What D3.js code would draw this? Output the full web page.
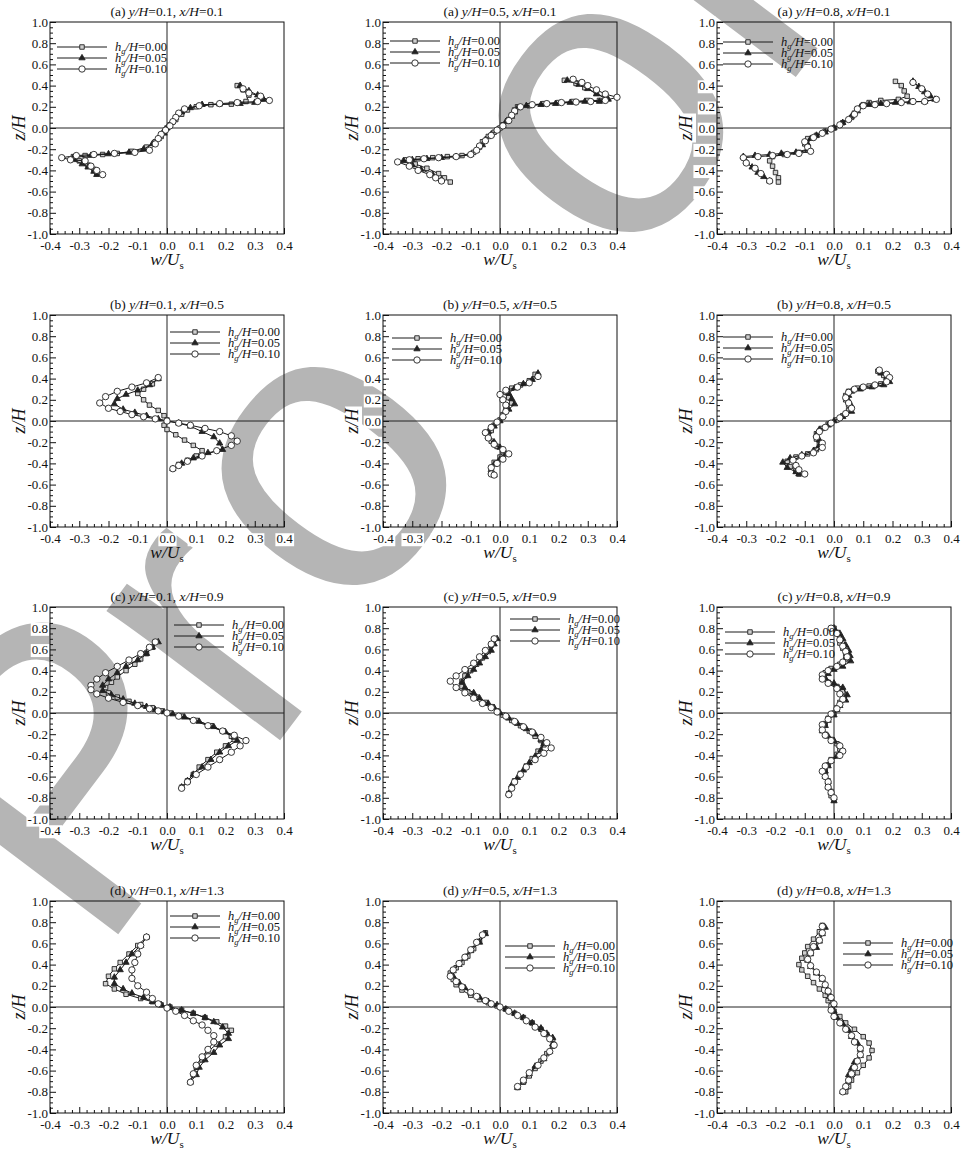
<!DOCTYPE html>
<html>
<head>
<meta charset="utf-8">
<script src="https://cdn.jsdelivr.net/npm/d3@7"></script>
<style>
    body { margin: 0; background: #fff; }
    svg text { font-family: "Liberation Serif", "Times New Roman", serif; }
</style>
</head>
<body>
<div id="chart"></div>
<script>
// ---------- data ----------
const rowLetters = ["a", "b", "c", "d"];
const yhValues = ["0.1", "0.5", "0.8"];
const xhValues = ["0.1", "0.5", "0.9", "1.3"];
const hgLabels = ["0.00", "0.05", "0.10"];
const xTicks = [-0.4, -0.3, -0.2, -0.1, 0.0, 0.1, 0.2, 0.3, 0.4];
const yTicks = [-1.0, -0.8, -0.6, -0.4, -0.2, 0.0, 0.2, 0.4, 0.6, 0.8, 1.0];

// each profile: [h_g/H=0.00, 0.05, 0.10], points are [w/Us, z/H]
const profA1 = [
    [[0.24,0.40],[0.26,0.36],[0.28,0.31],[0.27,0.25],[0.22,0.225],[0.15,0.22],[0.10,0.20],[0.07,0.17],[0.05,0.13],[0.03,0.08],[0.01,0.03],[0.00,0.00],[-0.01,-0.04],[-0.02,-0.08],[-0.04,-0.13],[-0.07,-0.18],[-0.12,-0.22],[-0.17,-0.24],[-0.22,-0.25],[-0.28,-0.26],[-0.32,-0.27],[-0.30,-0.31],[-0.27,-0.35],[-0.25,-0.39],[-0.24,-0.43]],
    [[0.25,0.40],[0.28,0.35],[0.31,0.31],[0.33,0.27],[0.30,0.24],[0.25,0.23],[0.18,0.225],[0.12,0.22],[0.08,0.19],[0.05,0.15],[0.03,0.10],[0.015,0.05],[0.00,0.00],[-0.01,-0.05],[-0.03,-0.10],[-0.05,-0.15],[-0.08,-0.20],[-0.13,-0.23],[-0.20,-0.245],[-0.26,-0.26],[-0.32,-0.28],[-0.32,-0.30],[-0.29,-0.34],[-0.27,-0.37],[-0.25,-0.41],[-0.24,-0.44]],
    [[0.26,0.37],[0.28,0.33],[0.32,0.30],[0.35,0.26],[0.31,0.25],[0.24,0.24],[0.18,0.23],[0.11,0.21],[0.06,0.18],[0.04,0.14],[0.03,0.10],[0.02,0.06],[0.01,0.02],[-0.005,-0.02],[-0.02,-0.06],[-0.03,-0.10],[-0.04,-0.15],[-0.06,-0.21],[-0.11,-0.23],[-0.18,-0.24],[-0.25,-0.25],[-0.31,-0.26],[-0.36,-0.28],[-0.33,-0.30],[-0.28,-0.31],[-0.26,-0.36],[-0.24,-0.40],[-0.22,-0.44]]
];
const profA2 = [
    [[0.22,0.45],[0.26,0.42],[0.29,0.38],[0.33,0.33],[0.36,0.28],[0.34,0.26],[0.30,0.26],[0.25,0.25],[0.20,0.24],[0.15,0.23],[0.10,0.21],[0.06,0.20],[0.05,0.17],[0.04,0.12],[0.03,0.08],[0.01,0.03],[0.00,0.00],[-0.02,-0.04],[-0.04,-0.08],[-0.06,-0.13],[-0.07,-0.18],[-0.09,-0.23],[-0.13,-0.26],[-0.18,-0.27],[-0.23,-0.28],[-0.28,-0.29],[-0.32,-0.30],[-0.29,-0.34],[-0.25,-0.38],[-0.21,-0.43],[-0.19,-0.47],[-0.17,-0.51]],
    [[0.23,0.45],[0.27,0.41],[0.30,0.37],[0.33,0.32],[0.37,0.27],[0.34,0.25],[0.29,0.25],[0.24,0.24],[0.19,0.23],[0.14,0.22],[0.09,0.21],[0.06,0.19],[0.05,0.15],[0.04,0.11],[0.02,0.06],[0.01,0.02],[-0.01,-0.02],[-0.03,-0.06],[-0.05,-0.11],[-0.06,-0.16],[-0.08,-0.21],[-0.10,-0.25],[-0.15,-0.27],[-0.20,-0.28],[-0.25,-0.29],[-0.30,-0.30],[-0.33,-0.31],[-0.30,-0.35],[-0.27,-0.39],[-0.23,-0.44],[-0.20,-0.49]],
    [[0.25,0.46],[0.28,0.43],[0.30,0.40],[0.33,0.36],[0.36,0.32],[0.40,0.29],[0.36,0.26],[0.31,0.25],[0.26,0.245],[0.21,0.24],[0.16,0.23],[0.11,0.22],[0.07,0.20],[0.05,0.16],[0.04,0.12],[0.03,0.07],[0.01,0.02],[-0.01,-0.02],[-0.03,-0.07],[-0.05,-0.12],[-0.07,-0.17],[-0.08,-0.21],[-0.10,-0.25],[-0.15,-0.27],[-0.21,-0.28],[-0.26,-0.29],[-0.31,-0.30],[-0.35,-0.32],[-0.31,-0.36],[-0.28,-0.40],[-0.24,-0.44],[-0.22,-0.47],[-0.20,-0.50]]
];
const profA3 = [
    [[0.21,0.44],[0.23,0.40],[0.24,0.35],[0.25,0.30],[0.22,0.27],[0.16,0.26],[0.12,0.24],[0.10,0.22],[0.08,0.18],[0.07,0.14],[0.06,0.10],[0.03,0.05],[0.00,0.00],[-0.03,-0.03],[-0.06,-0.07],[-0.09,-0.10],[-0.10,-0.15],[-0.09,-0.21],[-0.12,-0.23],[-0.17,-0.25],[-0.21,-0.27],[-0.22,-0.31],[-0.21,-0.36],[-0.20,-0.42],[-0.19,-0.47],[-0.19,-0.51]],
    [[0.27,0.44],[0.29,0.39],[0.31,0.34],[0.33,0.30],[0.345,0.27],[0.31,0.25],[0.26,0.245],[0.21,0.24],[0.16,0.23],[0.12,0.22],[0.09,0.20],[0.08,0.16],[0.06,0.11],[0.03,0.05],[0.00,0.00],[-0.03,-0.04],[-0.06,-0.07],[-0.08,-0.10],[-0.09,-0.15],[-0.09,-0.20],[-0.13,-0.23],[-0.18,-0.24],[-0.22,-0.25],[-0.27,-0.26],[-0.31,-0.27],[-0.30,-0.32],[-0.28,-0.37],[-0.26,-0.42],[-0.24,-0.46],[-0.22,-0.50]],
    [[0.27,0.43],[0.30,0.37],[0.32,0.32],[0.35,0.27],[0.31,0.25],[0.27,0.25],[0.23,0.24],[0.18,0.23],[0.14,0.22],[0.10,0.21],[0.08,0.18],[0.07,0.13],[0.05,0.08],[0.02,0.03],[-0.01,-0.01],[-0.04,-0.05],[-0.07,-0.09],[-0.10,-0.13],[-0.09,-0.18],[-0.08,-0.22],[-0.12,-0.24],[-0.16,-0.25],[-0.21,-0.26],[-0.26,-0.27],[-0.31,-0.28],[-0.30,-0.33],[-0.27,-0.38],[-0.25,-0.43],[-0.22,-0.50]]
];
const profB1 = [
    [[-0.03,0.40],[-0.05,0.35],[-0.08,0.30],[-0.10,0.26],[-0.08,0.20],[-0.06,0.15],[-0.03,0.10],[-0.01,0.05],[0.00,0.01],[-0.01,-0.04],[0.00,-0.08],[0.03,-0.13],[0.06,-0.18],[0.09,-0.23],[0.12,-0.28],[0.10,-0.33],[0.07,-0.37],[0.04,-0.41],[0.02,-0.45]],
    [[-0.03,0.40],[-0.06,0.34],[-0.10,0.29],[-0.14,0.25],[-0.17,0.21],[-0.18,0.16],[-0.15,0.11],[-0.11,0.08],[-0.07,0.05],[-0.03,0.02],[0.00,0.00],[0.04,-0.02],[0.08,-0.05],[0.12,-0.10],[0.16,-0.15],[0.18,-0.21],[0.19,-0.27],[0.14,-0.30],[0.09,-0.35],[0.05,-0.40],[0.02,-0.45]],
    [[-0.03,0.41],[-0.07,0.36],[-0.12,0.32],[-0.17,0.28],[-0.21,0.23],[-0.23,0.17],[-0.20,0.12],[-0.16,0.09],[-0.12,0.06],[-0.08,0.04],[-0.04,0.02],[0.00,0.00],[0.04,-0.02],[0.08,-0.04],[0.13,-0.07],[0.18,-0.10],[0.22,-0.14],[0.24,-0.19],[0.22,-0.23],[0.17,-0.28],[0.12,-0.33],[0.07,-0.38],[0.04,-0.42],[0.02,-0.45]]
];
const profB2 = [
    [[0.12,0.44],[0.10,0.38],[0.07,0.34],[0.04,0.31],[0.02,0.27],[0.03,0.22],[0.04,0.17],[0.02,0.12],[0.01,0.06],[0.00,0.01],[-0.02,-0.04],[-0.03,-0.09],[-0.04,-0.14],[-0.03,-0.19],[-0.01,-0.24],[0.01,-0.29],[0.00,-0.34],[-0.02,-0.39],[-0.03,-0.44],[-0.03,-0.49]],
    [[0.13,0.45],[0.11,0.39],[0.08,0.35],[0.05,0.31],[0.03,0.26],[0.04,0.21],[0.05,0.16],[0.03,0.11],[0.01,0.05],[0.00,0.00],[-0.02,-0.05],[-0.04,-0.10],[-0.04,-0.15],[-0.02,-0.20],[0.00,-0.25],[0.02,-0.31],[0.00,-0.36],[-0.02,-0.41],[-0.03,-0.46],[-0.02,-0.51]],
    [[0.13,0.42],[0.10,0.36],[0.06,0.32],[0.02,0.29],[0.00,0.25],[0.01,0.20],[0.02,0.15],[0.02,0.09],[0.01,0.04],[-0.01,-0.01],[-0.03,-0.06],[-0.05,-0.11],[-0.04,-0.16],[-0.02,-0.22],[0.01,-0.27],[0.03,-0.31],[0.01,-0.36],[-0.01,-0.40],[-0.03,-0.44],[-0.03,-0.50],[-0.02,-0.51]]
];
const profB3 = [
    [[0.15,0.47],[0.17,0.43],[0.18,0.39],[0.16,0.35],[0.12,0.33],[0.08,0.31],[0.05,0.28],[0.04,0.24],[0.04,0.20],[0.05,0.15],[0.05,0.10],[0.03,0.05],[0.01,0.01],[-0.02,-0.03],[-0.04,-0.07],[-0.06,-0.12],[-0.06,-0.17],[-0.05,-0.22],[-0.06,-0.27],[-0.09,-0.31],[-0.13,-0.34],[-0.16,-0.38],[-0.15,-0.43],[-0.13,-0.47],[-0.12,-0.50]],
    [[0.16,0.45],[0.18,0.41],[0.19,0.37],[0.17,0.34],[0.13,0.32],[0.09,0.30],[0.06,0.28],[0.05,0.24],[0.05,0.19],[0.06,0.14],[0.06,0.09],[0.03,0.04],[0.00,0.00],[-0.02,-0.04],[-0.05,-0.08],[-0.06,-0.13],[-0.05,-0.18],[-0.05,-0.23],[-0.07,-0.28],[-0.11,-0.32],[-0.15,-0.35],[-0.175,-0.39],[-0.16,-0.44],[-0.13,-0.48],[-0.12,-0.50]],
    [[0.155,0.48],[0.18,0.44],[0.19,0.41],[0.18,0.37],[0.14,0.34],[0.10,0.32],[0.07,0.30],[0.05,0.27],[0.04,0.22],[0.05,0.17],[0.06,0.12],[0.04,0.07],[0.02,0.03],[-0.01,-0.02],[-0.03,-0.06],[-0.05,-0.10],[-0.06,-0.15],[-0.04,-0.21],[-0.04,-0.25],[-0.07,-0.30],[-0.11,-0.33],[-0.14,-0.37],[-0.13,-0.42],[-0.12,-0.46],[-0.10,-0.50]]
];
const profC1 = [
    [[-0.04,0.67],[-0.05,0.62],[-0.07,0.56],[-0.09,0.51],[-0.11,0.46],[-0.14,0.40],[-0.17,0.34],[-0.19,0.29],[-0.21,0.24],[-0.20,0.19],[-0.17,0.15],[-0.13,0.11],[-0.09,0.08],[-0.05,0.05],[-0.02,0.02],[0.01,0.00],[0.05,-0.03],[0.10,-0.07],[0.15,-0.12],[0.19,-0.17],[0.22,-0.22],[0.23,-0.25],[0.20,-0.31],[0.17,-0.37],[0.14,-0.44],[0.11,-0.51],[0.09,-0.58],[0.07,-0.64],[0.05,-0.70]],
    [[-0.03,0.67],[-0.05,0.62],[-0.07,0.56],[-0.10,0.50],[-0.14,0.44],[-0.17,0.38],[-0.20,0.32],[-0.22,0.26],[-0.22,0.21],[-0.19,0.17],[-0.15,0.13],[-0.11,0.09],[-0.07,0.06],[-0.04,0.03],[-0.01,0.01],[0.02,-0.01],[0.06,-0.04],[0.11,-0.08],[0.16,-0.13],[0.20,-0.18],[0.23,-0.23],[0.24,-0.26],[0.21,-0.31],[0.18,-0.37],[0.15,-0.44],[0.12,-0.51],[0.09,-0.58],[0.07,-0.64],[0.05,-0.70]],
    [[-0.04,0.67],[-0.06,0.62],[-0.09,0.56],[-0.13,0.50],[-0.17,0.44],[-0.21,0.38],[-0.24,0.32],[-0.26,0.26],[-0.26,0.22],[-0.24,0.18],[-0.20,0.14],[-0.15,0.10],[-0.10,0.07],[-0.06,0.04],[-0.03,0.02],[0.00,0.00],[0.04,-0.03],[0.09,-0.07],[0.14,-0.12],[0.19,-0.17],[0.23,-0.21],[0.27,-0.26],[0.25,-0.31],[0.22,-0.37],[0.18,-0.44],[0.14,-0.51],[0.10,-0.58],[0.07,-0.65],[0.05,-0.71]]
];
const profC2 = [
    [[-0.02,0.70],[-0.03,0.64],[-0.04,0.58],[-0.06,0.52],[-0.08,0.46],[-0.10,0.40],[-0.12,0.35],[-0.13,0.30],[-0.13,0.25],[-0.11,0.20],[-0.08,0.15],[-0.05,0.10],[-0.03,0.06],[-0.01,0.02],[0.01,-0.02],[0.04,-0.07],[0.07,-0.12],[0.10,-0.17],[0.12,-0.22],[0.14,-0.26],[0.15,-0.30],[0.13,-0.36],[0.11,-0.43],[0.09,-0.50],[0.07,-0.57],[0.05,-0.64],[0.04,-0.70],[0.03,-0.76]],
    [[-0.01,0.70],[-0.02,0.65],[-0.03,0.59],[-0.05,0.53],[-0.07,0.47],[-0.09,0.41],[-0.11,0.35],[-0.13,0.29],[-0.12,0.24],[-0.09,0.19],[-0.07,0.14],[-0.04,0.09],[-0.02,0.05],[0.00,0.00],[0.03,-0.05],[0.06,-0.10],[0.09,-0.15],[0.12,-0.20],[0.14,-0.25],[0.15,-0.29],[0.14,-0.35],[0.12,-0.41],[0.10,-0.47],[0.08,-0.54],[0.06,-0.61],[0.04,-0.68],[0.03,-0.76]],
    [[-0.02,0.70],[-0.03,0.65],[-0.05,0.59],[-0.07,0.53],[-0.09,0.47],[-0.12,0.41],[-0.15,0.35],[-0.17,0.30],[-0.15,0.24],[-0.12,0.19],[-0.09,0.14],[-0.06,0.09],[-0.03,0.05],[-0.01,0.01],[0.02,-0.03],[0.05,-0.08],[0.08,-0.13],[0.11,-0.18],[0.14,-0.23],[0.16,-0.28],[0.175,-0.33],[0.15,-0.38],[0.12,-0.44],[0.09,-0.51],[0.07,-0.58],[0.05,-0.65],[0.04,-0.71],[0.03,-0.77]]
];
const profC3 = [
    [[0.00,0.80],[0.01,0.76],[0.02,0.71],[0.02,0.66],[0.03,0.61],[0.04,0.56],[0.04,0.51],[0.02,0.46],[-0.01,0.42],[-0.03,0.38],[-0.04,0.34],[-0.02,0.29],[0.01,0.25],[0.03,0.20],[0.03,0.15],[0.02,0.10],[0.01,0.05],[0.00,0.00],[-0.02,-0.05],[-0.03,-0.10],[-0.04,-0.15],[-0.03,-0.20],[-0.01,-0.25],[0.01,-0.29],[0.02,-0.34],[0.01,-0.39],[-0.01,-0.44],[-0.02,-0.49],[-0.03,-0.54],[-0.03,-0.59],[-0.02,-0.64],[-0.02,-0.69],[-0.01,-0.74],[-0.01,-0.78],[0.00,-0.82]],
    [[0.00,0.80],[0.02,0.75],[0.03,0.70],[0.04,0.64],[0.05,0.59],[0.055,0.54],[0.057,0.49],[0.03,0.44],[0.00,0.41],[-0.02,0.37],[-0.03,0.33],[0.00,0.28],[0.03,0.24],[0.045,0.17],[0.04,0.12],[0.02,0.07],[0.01,0.03],[0.00,-0.02],[-0.02,-0.07],[-0.03,-0.12],[-0.04,-0.17],[-0.02,-0.22],[0.00,-0.26],[0.02,-0.31],[0.025,-0.36],[0.01,-0.41],[-0.01,-0.45],[-0.02,-0.50],[-0.03,-0.55],[-0.03,-0.60],[-0.02,-0.65],[-0.02,-0.70],[-0.01,-0.75],[0.00,-0.80],[0.00,-0.83]],
    [[-0.01,0.80],[0.01,0.75],[0.02,0.69],[0.03,0.63],[0.04,0.58],[0.045,0.53],[0.03,0.48],[0.01,0.44],[-0.02,0.40],[-0.04,0.36],[-0.04,0.32],[-0.02,0.28],[0.01,0.23],[0.02,0.18],[0.03,0.13],[0.02,0.08],[0.01,0.04],[-0.01,-0.01],[-0.02,-0.06],[-0.04,-0.11],[-0.04,-0.16],[-0.03,-0.21],[-0.01,-0.26],[0.02,-0.31],[0.03,-0.36],[0.02,-0.40],[-0.01,-0.45],[-0.03,-0.50],[-0.04,-0.55],[-0.03,-0.60],[-0.02,-0.65],[-0.02,-0.70],[-0.01,-0.75],[0.00,-0.80]]
];
const profD1 = [
    [[-0.07,0.66],[-0.10,0.58],[-0.13,0.50],[-0.16,0.42],[-0.18,0.36],[-0.20,0.29],[-0.21,0.22],[-0.18,0.17],[-0.14,0.12],[-0.09,0.08],[-0.05,0.05],[-0.02,0.02],[0.01,0.00],[0.05,-0.03],[0.09,-0.06],[0.13,-0.10],[0.17,-0.14],[0.20,-0.18],[0.22,-0.22],[0.20,-0.28],[0.17,-0.35],[0.14,-0.42],[0.12,-0.50],[0.10,-0.57],[0.09,-0.64],[0.08,-0.71]],
    [[-0.07,0.66],[-0.09,0.58],[-0.12,0.50],[-0.14,0.42],[-0.16,0.35],[-0.18,0.28],[-0.18,0.22],[-0.15,0.17],[-0.12,0.13],[-0.08,0.09],[-0.05,0.05],[-0.02,0.02],[0.01,0.00],[0.05,-0.03],[0.09,-0.06],[0.13,-0.10],[0.16,-0.14],[0.19,-0.19],[0.21,-0.25],[0.21,-0.30],[0.18,-0.36],[0.16,-0.43],[0.13,-0.50],[0.11,-0.57],[0.10,-0.64],[0.08,-0.71]],
    [[-0.07,0.66],[-0.09,0.58],[-0.10,0.50],[-0.11,0.42],[-0.12,0.35],[-0.12,0.27],[-0.10,0.20],[-0.07,0.14],[-0.05,0.08],[-0.03,0.03],[0.00,-0.01],[0.03,-0.04],[0.06,-0.08],[0.09,-0.13],[0.12,-0.17],[0.14,-0.22],[0.16,-0.27],[0.16,-0.33],[0.14,-0.40],[0.12,-0.47],[0.10,-0.55],[0.09,-0.63],[0.08,-0.71]]
];
const profD2 = [
    [[-0.05,0.70],[-0.07,0.62],[-0.09,0.55],[-0.11,0.48],[-0.13,0.42],[-0.15,0.37],[-0.17,0.32],[-0.16,0.26],[-0.15,0.21],[-0.13,0.16],[-0.10,0.11],[-0.07,0.07],[-0.04,0.04],[-0.01,0.01],[0.02,-0.02],[0.05,-0.06],[0.08,-0.10],[0.11,-0.15],[0.14,-0.21],[0.16,-0.26],[0.18,-0.31],[0.18,-0.37],[0.16,-0.44],[0.14,-0.51],[0.12,-0.58],[0.10,-0.65],[0.08,-0.71],[0.06,-0.76]],
    [[-0.05,0.69],[-0.07,0.61],[-0.10,0.53],[-0.12,0.46],[-0.14,0.40],[-0.16,0.34],[-0.16,0.29],[-0.14,0.23],[-0.12,0.18],[-0.10,0.13],[-0.07,0.09],[-0.04,0.05],[-0.01,0.02],[0.02,-0.02],[0.05,-0.06],[0.08,-0.10],[0.11,-0.15],[0.14,-0.20],[0.16,-0.25],[0.18,-0.29],[0.18,-0.35],[0.17,-0.42],[0.15,-0.49],[0.12,-0.56],[0.10,-0.63],[0.08,-0.70],[0.06,-0.76]],
    [[-0.06,0.68],[-0.08,0.61],[-0.10,0.54],[-0.12,0.47],[-0.14,0.41],[-0.16,0.35],[-0.17,0.29],[-0.15,0.24],[-0.13,0.19],[-0.10,0.14],[-0.08,0.10],[-0.05,0.06],[-0.03,0.03],[0.00,0.00],[0.03,-0.04],[0.06,-0.08],[0.09,-0.13],[0.12,-0.19],[0.15,-0.25],[0.17,-0.30],[0.185,-0.36],[0.17,-0.42],[0.15,-0.48],[0.13,-0.55],[0.10,-0.62],[0.08,-0.69],[0.06,-0.75]]
];
const profD3 = [
    [[-0.04,0.77],[-0.05,0.71],[-0.07,0.64],[-0.09,0.57],[-0.10,0.51],[-0.11,0.46],[-0.12,0.40],[-0.11,0.35],[-0.09,0.29],[-0.07,0.23],[-0.05,0.17],[-0.03,0.11],[-0.02,0.06],[-0.01,0.01],[0.00,-0.04],[0.02,-0.09],[0.04,-0.15],[0.07,-0.21],[0.10,-0.28],[0.12,-0.34],[0.13,-0.41],[0.12,-0.48],[0.10,-0.55],[0.08,-0.62],[0.06,-0.69],[0.05,-0.75],[0.04,-0.80]],
    [[-0.03,0.75],[-0.04,0.69],[-0.05,0.62],[-0.06,0.56],[-0.08,0.50],[-0.09,0.44],[-0.08,0.38],[-0.06,0.32],[-0.04,0.26],[-0.03,0.20],[-0.02,0.14],[-0.01,0.08],[0.00,0.02],[0.00,-0.04],[0.01,-0.10],[0.03,-0.16],[0.05,-0.22],[0.06,-0.28],[0.08,-0.34],[0.09,-0.40],[0.09,-0.46],[0.07,-0.52],[0.06,-0.58],[0.05,-0.64],[0.05,-0.70],[0.04,-0.76],[0.03,-0.80]],
    [[-0.04,0.76],[-0.04,0.70],[-0.05,0.63],[-0.07,0.57],[-0.08,0.51],[-0.09,0.45],[-0.08,0.39],[-0.06,0.33],[-0.04,0.27],[-0.03,0.21],[-0.02,0.15],[-0.01,0.09],[0.00,0.03],[-0.01,-0.03],[0.00,-0.09],[0.02,-0.15],[0.04,-0.21],[0.06,-0.27],[0.07,-0.33],[0.09,-0.39],[0.09,-0.45],[0.08,-0.51],[0.07,-0.57],[0.06,-0.63],[0.05,-0.69],[0.04,-0.75],[0.03,-0.80]]
];
const profiles = [
    [profA1, profA2, profA3],
    [profB1, profB2, profB3],
    [profC1, profC2, profC3],
    [profD1, profD2, profD3]
];

// ---------- layout ----------
const colLeft = [50, 383, 717];
const rowTop = [22, 315, 607, 901];
// legend offset inside each plot (px from plot left/top)
const legendPos = [
    [[7, 25], [7, 19], [6, 20]],
    [[120, 17], [9, 23], [6, 22]],
    [[124, 18], [127, 12], [8, 25]],
    [[120, 15], [122, 45], [126, 42]]
];
// "Proof" watermark behind the panels, one glyph per entry
const watermarkGlyphs = [
    {ch: "P", x: 98, y: 961},
    {ch: "r", x: 263, y: 763},
    {ch: "o", x: 352, y: 633},
    {ch: "o", x: 629, y: 280},
    {ch: "f", x: 774, y: 106}
];

function backdrop(textSel, trimTop) {
    textSel.each(function () {
        const b = this.getBBox();
        const t = trimTop || 0;
        d3.select(this.parentNode).insert("rect", () => this)
            .attr("x", b.x - 1)
            .attr("y", b.y + t)
            .attr("width", b.width + 2)
            .attr("height", b.height - t)
            .attr("transform", d3.select(this).attr("transform"))
            .attr("fill", "#fff");
    });
}

class ProfilePanel {
    constructor(svg, configs) {
        this.svg = svg;
        this.defaultConfig = {
            width: 234,
            height: 212,
            symbols: [d3.symbolSquare, d3.symbolTriangle, d3.symbolCircle],
            symbolSize: [20, 17, 32],
            symbolFill: ["#cfcfcf", "#222", "#fff"]
        };
        this.config = Object.assign({}, this.defaultConfig, configs);
        this.initParams();
        this.setAxes();
        this.setZeroLines();
        this.setSeries();
        this.setLegend();
        this.setLabels();
    }

    initParams() {
        let c = this.config;
        this.g = this.svg.append("g")
            .attr("transform", "translate(" + c.left + "," + c.top + ")");
        this.x = d3.scaleLinear().domain([-0.4, 0.4]).range([0, c.width]);
        this.y = d3.scaleLinear().domain([-1, 1]).range([c.height, 0]);
    }

    setAxes() {
        let c = this.config;
        let fmt = d => d.toFixed(1);
        let xMinor = d3.range(33).filter(i => i % 4 !== 0).map(i => -0.4 + i * 0.025);
        let yMinor = d3.range(41).filter(i => i % 4 !== 0).map(i => -1 + i * 0.05);

        this.g.append("g")
            .attr("transform", "translate(0," + c.height + ")")
            .call(d3.axisBottom(this.x).tickValues(xMinor).tickSize(-3).tickFormat(""))
            .call(g => g.select(".domain").remove());
        this.g.append("g")
            .call(d3.axisLeft(this.y).tickValues(yMinor).tickSize(-3).tickFormat(""))
            .call(g => g.select(".domain").remove());

        let xa = this.g.append("g")
            .attr("transform", "translate(0," + c.height + ")")
            .call(d3.axisBottom(this.x).tickValues(xTicks).tickSize(-6).tickPadding(7).tickFormat(fmt));
        let ya = this.g.append("g")
            .call(d3.axisLeft(this.y).tickValues(yTicks).tickSize(-6).tickPadding(2).tickFormat(fmt));

        [xa, ya].forEach(a => {
            a.select(".domain").remove();
            a.attr("font-family", "Liberation Serif").attr("font-size", 13);
            a.selectAll(".tick text").attr("fill", "#111");
            backdrop(a.selectAll(".tick text"), 2);
        });
        this.g.selectAll(".tick line").attr("stroke", "#111");

        this.g.append("rect")
            .attr("width", c.width)
            .attr("height", c.height)
            .attr("fill", "none")
            .attr("stroke", "#111")
            .attr("stroke-width", 1);
    }

    setZeroLines() {
        let c = this.config;
        this.g.append("line")
            .attr("x1", this.x(0)).attr("x2", this.x(0))
            .attr("y1", 0).attr("y2", c.height)
            .attr("stroke", "#222");
        this.g.append("line")
            .attr("x1", 0).attr("x2", c.width)
            .attr("y1", this.y(0)).attr("y2", this.y(0))
            .attr("stroke", "#222");
    }

    setSeries() {
        let c = this.config;
        let line = d3.line().x(d => this.x(d[0])).y(d => this.y(d[1]));
        c.series.forEach((pts, i) => {
            let sg = this.g.append("g");
            sg.append("path")
                .attr("d", line(pts))
                .attr("fill", "none")
                .attr("stroke", "#1a1a1a")
                .attr("stroke-width", 1);
            sg.selectAll("path.mk")
                .data(pts)
                .enter()
                .append("path")
                .attr("class", "mk")
                .attr("d", d3.symbol().type(c.symbols[i]).size(c.symbolSize[i]))
                .attr("transform", d => "translate(" + this.x(d[0]) + "," + this.y(d[1]) + ")")
                .attr("fill", c.symbolFill[i])
                .attr("stroke", "#222")
                .attr("stroke-width", 0.9);
        });
    }

    setLegend() {
        let c = this.config;
        let lg = this.g.append("g")
            .attr("transform", "translate(" + c.legend[0] + "," + c.legend[1] + ")");
        hgLabels.forEach((lab, i) => {
            let row = lg.append("g").attr("transform", "translate(0," + (i * 11) + ")");
            row.append("line")
                .attr("x1", 0).attr("x2", 50)
                .attr("stroke", "#1a1a1a");
            row.append("path")
                .attr("d", d3.symbol().type(c.symbols[i]).size(c.symbolSize[i]))
                .attr("transform", "translate(25,0)")
                .attr("fill", c.symbolFill[i])
                .attr("stroke", "#222")
                .attr("stroke-width", 0.9);
            let t = row.append("text")
                .attr("x", 58)
                .attr("y", 4)
                .attr("font-size", 12.5)
                .attr("fill", "#111");
            t.append("tspan").attr("font-style", "italic").text("h");
            t.append("tspan").attr("font-style", "italic").attr("font-size", 8.5).attr("dy", 3).text("g");
            t.append("tspan").attr("font-style", "italic").attr("dy", -3).text("/H");
            t.append("tspan").text("=" + lab);
        });
    }

    setLabels() {
        let c = this.config;
        let title = this.g.append("text")
            .attr("x", c.width / 2)
            .attr("y", -6)
            .attr("text-anchor", "middle")
            .attr("font-size", 13.5)
            .attr("fill", "#111");
        title.append("tspan").text("(" + c.letter + ") ");
        title.append("tspan").attr("font-style", "italic").text("y/H");
        title.append("tspan").text("=" + c.yh + ", ");
        title.append("tspan").attr("font-style", "italic").text("x/H");
        title.append("tspan").text("=" + c.xh);

        let xl = this.g.append("text")
            .attr("x", c.width / 2)
            .attr("y", c.height + 31)
            .attr("text-anchor", "middle")
            .attr("font-size", 17.5)
            .attr("fill", "#111");
        xl.append("tspan").attr("font-style", "italic").text("w/U");
        xl.append("tspan").attr("font-size", 11).attr("dy", 4).text("s");

        let zl = this.g.append("text")
            .attr("transform", "translate(-25," + (c.height / 2) + ") rotate(-90)")
            .attr("text-anchor", "middle")
            .attr("font-size", 18)
            .attr("font-style", "italic")
            .attr("fill", "#111")
            .text("z/H");
        backdrop(zl, 3);
    }
}

const svg = d3.select("#chart").append("svg")
    .attr("width", 962)
    .attr("height", 1151);

svg.append("g")
    .selectAll("text")
    .data(watermarkGlyphs)
    .enter()
    .append("text")
    .attr("transform", d => "translate(" + d.x + "," + d.y + ") rotate(-53)")
    .style("font-family", "'Liberation Sans', Arial, sans-serif")
    .attr("font-size", 410)
    .attr("fill", "#b5b5b5")
    .text(d => d.ch);

rowLetters.forEach((letter, r) => {
    yhValues.forEach((yh, ci) => {
        new ProfilePanel(svg, {
            left: colLeft[ci],
            top: rowTop[r],
            letter: letter,
            yh: yh,
            xh: xhValues[r],
            series: profiles[r][ci],
            legend: legendPos[r][ci]
        });
    });
});
</script>
</body>
</html>
